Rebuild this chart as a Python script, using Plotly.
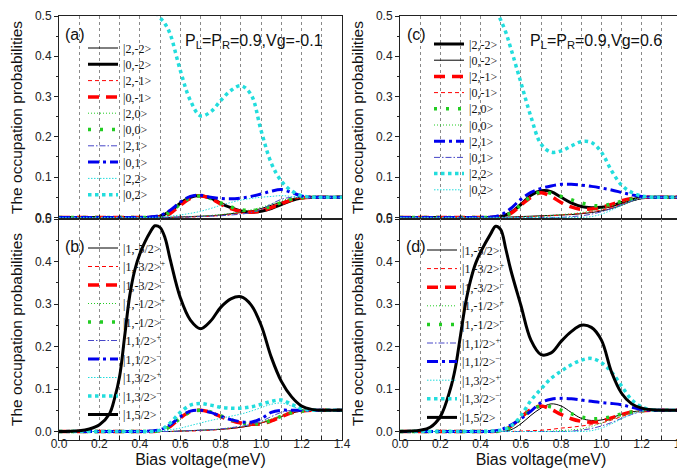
import plotly.graph_objects as go

# ---------------- data ----------------
V = [0.00, 0.05, 0.10, 0.15, 0.20, 0.25, 0.30, 0.35, 0.40, 0.45, 0.50, 0.55, 0.60, 0.65,
     0.70, 0.75, 0.80, 0.85, 0.90, 0.95, 1.00, 1.05, 1.10, 1.15, 1.20, 1.25, 1.30, 1.35, 1.40]
V_BIG = [0.0, 0.1, 0.15, 0.2, 0.25, 0.275, 0.3, 0.325, 0.35, 0.375, 0.4, 0.45, 0.475, 0.5,
         0.525, 0.55, 0.6, 0.65, 0.7, 0.75, 0.8, 0.85, 0.9, 0.95, 1.0, 1.05, 1.1, 1.15, 1.2,
         1.25, 1.3, 1.4]

# panel (a)  P_L=P_R=0.9, Vg=-0.1
a_2m2 = [0,0,0,0,0,0,0,0,0,0, 0,0,0.001,0.002,0.003,0.004,0.006,0.009,0.012,0.016,0.022,0.03,0.038,0.045,0.049,0.05,0.05,0.05,0.05]
a_0m2 = [0,0,0,0,0,0,0,0,0,0, 0.003,0.015,0.035,0.05,0.054,0.048,0.035,0.024,0.016,0.013,0.015,0.022,0.032,0.042,0.048,0.05,0.05,0.05,0.05]
a_2m1 = [0,0,0,0,0,0,0,0,0,0, 0,0,0.001,0.001,0.002,0.003,0.005,0.007,0.01,0.014,0.02,0.027,0.036,0.044,0.048,0.05,0.05,0.05,0.05]
a_0m1 = [0,0,0,0,0,0,0,0,0,0, 0.001,0.01,0.03,0.047,0.054,0.047,0.033,0.022,0.015,0.013,0.016,0.024,0.034,0.043,0.048,0.05,0.05,0.05,0.05]
a_20 = [0,0,0,0,0,0,0,0,0,0, 0,0,0.001,0.002,0.003,0.005,0.007,0.01,0.014,0.019,0.025,0.033,0.042,0.047,0.05,0.05,0.05,0.05,0.05]
a_00 = [0,0,0,0,0,0,0,0,0,0, 0.002,0.013,0.033,0.049,0.053,0.047,0.036,0.026,0.019,0.017,0.02,0.028,0.037,0.045,0.049,0.05,0.05,0.05,0.05]
a_21 = [0,0,0,0,0,0,0,0,0,0, 0,0,0.001,0.001,0.002,0.003,0.004,0.006,0.008,0.012,0.02,0.033,0.045,0.05,0.051,0.05,0.05,0.05,0.05]
a_01 = [0,0,0,0,0,0,0,0,0,0.001, 0.005,0.018,0.038,0.052,0.055,0.05,0.047,0.046,0.048,0.052,0.058,0.065,0.069,0.062,0.053,0.05,0.05,0.05,0.05]
a_22 = [0,0,0,0,0,0,0,0,0,0, 0.001,0.003,0.006,0.01,0.015,0.022,0.03,0.037,0.043,0.047,0.05,0.052,0.054,0.052,0.05,0.05,0.05,0.05,0.05]
a_02 = [1.0,0.998,0.994,0.984,0.958,0.92,0.87,0.775,0.68,0.62,0.58,0.53,0.512,0.496,0.48,0.455,
        0.365,0.29,0.252,0.262,0.29,0.315,0.327,0.305,0.215,0.135,0.09,0.066,0.054,0.05,0.05,0.05]

# panel (b)
b_m52 = [0,0,0,0,0,0,0,0,0,0, 0,0,0.001,0.002,0.003,0.004,0.005,0.007,0.01,0.014,0.02,0.027,0.035,0.043,0.048,0.05,0.05,0.05,0.05]
b_m32p = [0,0,0,0,0,0,0,0,0,0, 0,0,0.001,0.001,0.002,0.003,0.005,0.007,0.01,0.014,0.02,0.028,0.036,0.044,0.048,0.05,0.05,0.05,0.05]
b_m32m = [0,0,0,0,0,0,0,0,0,0, 0.002,0.012,0.032,0.047,0.05,0.045,0.035,0.026,0.02,0.017,0.018,0.025,0.035,0.044,0.048,0.05,0.05,0.05,0.05]
b_m12p = [0,0,0,0,0,0,0,0,0,0, 0,0,0.001,0.002,0.003,0.004,0.006,0.009,0.012,0.016,0.022,0.03,0.038,0.045,0.049,0.05,0.05,0.05,0.05]
b_m12m = [0,0,0,0,0,0,0,0,0,0, 0.002,0.012,0.031,0.046,0.05,0.046,0.037,0.028,0.021,0.018,0.019,0.026,0.036,0.044,0.048,0.05,0.05,0.05,0.05]
b_12p = [0,0,0,0,0,0,0,0,0,0, 0,0,0.001,0.002,0.003,0.004,0.006,0.009,0.012,0.017,0.024,0.035,0.045,0.05,0.05,0.05,0.05,0.05,0.05]
b_12m = [0,0,0,0,0,0,0,0,0,0.001, 0.004,0.016,0.035,0.048,0.05,0.045,0.036,0.028,0.023,0.022,0.03,0.045,0.05,0.05,0.05,0.05,0.05,0.05,0.05]
b_32p = [0,0,0,0,0,0,0,0,0,0, 0.001,0.004,0.008,0.014,0.02,0.026,0.031,0.036,0.041,0.048,0.056,0.064,0.067,0.06,0.052,0.05,0.05,0.05,0.05]
b_32m = [0,0,0,0,0,0,0,0,0,0, 0.003,0.02,0.045,0.062,0.066,0.062,0.057,0.055,0.055,0.058,0.064,0.071,0.074,0.064,0.054,0.05,0.05,0.05,0.05]
b_52 = [0,0.002,0.006,0.016,0.042,0.078,0.13,0.225,0.32,0.38,0.418,0.468,0.484,0.48,0.455,0.405,
        0.315,0.262,0.242,0.26,0.292,0.312,0.317,0.298,0.25,0.175,0.118,0.082,0.06,0.052,0.05,0.05]

# panel (c)  P_L=P_R=0.9, Vg=0.6
c_2m2 = [0,0,0,0,0,0,0,0,0,0, 0.002,0.012,0.032,0.055,0.066,0.064,0.05,0.036,0.027,0.024,0.025,0.029,0.037,0.044,0.049,0.05,0.05,0.05,0.05]
c_0m2 = [0,0,0,0,0,0,0,0,0,0, 0,0.001,0.002,0.003,0.004,0.005,0.006,0.007,0.009,0.012,0.016,0.022,0.03,0.04,0.047,0.05,0.05,0.05,0.05]
c_2m1 = [0,0,0,0,0,0,0,0,0,0, 0.001,0.01,0.03,0.05,0.061,0.052,0.037,0.026,0.02,0.021,0.025,0.032,0.041,0.047,0.05,0.05,0.05,0.05,0.05]
c_0m1 = [0,0,0,0,0,0,0,0,0,0, 0,0,0.001,0.002,0.003,0.004,0.006,0.008,0.01,0.014,0.018,0.025,0.033,0.042,0.048,0.05,0.05,0.05,0.05]
c_20 = [0,0,0,0,0,0,0,0,0,0, 0.001,0.011,0.031,0.052,0.063,0.06,0.052,0.044,0.036,0.03,0.029,0.033,0.04,0.046,0.05,0.05,0.05,0.05,0.05]
c_00 = [0,0,0,0,0,0,0,0,0,0, 0,0,0.001,0.002,0.003,0.005,0.007,0.009,0.012,0.016,0.022,0.029,0.037,0.044,0.049,0.05,0.05,0.05,0.05]
c_21 = [0,0,0,0,0,0,0,0,0,0.001, 0.006,0.022,0.045,0.062,0.072,0.078,0.082,0.082,0.08,0.077,0.073,0.068,0.062,0.056,0.052,0.05,0.05,0.05,0.05]
c_01 = [0,0,0,0,0,0,0,0,0,0, 0,0,0,0,0,0,0,0.002,0.004,0.008,0.014,0.022,0.032,0.041,0.047,0.05,0.05,0.05,0.05]
c_22 = [1.0,0.997,0.99,0.965,0.9,0.85,0.775,0.7,0.645,0.605,0.578,0.535,0.515,0.49,0.46,0.42,
        0.335,0.25,0.182,0.162,0.165,0.177,0.188,0.186,0.162,0.116,0.08,0.062,0.053,0.05,0.05,0.05]
c_02 = [0,0,0,0,0,0,0,0,0,0, 0,0,0,0,0,0,0,0,0,0.002,0.008,0.018,0.03,0.041,0.048,0.05,0.05,0.05,0.05]

# panel (d)
d_m52 = [0,0,0,0,0,0,0,0,0,0, 0,0.004,0.018,0.038,0.055,0.065,0.06,0.045,0.031,0.026,0.027,0.033,0.04,0.046,0.049,0.05,0.05,0.05,0.05]
d_m32p = [0,0,0,0,0,0,0,0,0,0, 0,0,0.001,0.002,0.003,0.005,0.008,0.01,0.013,0.016,0.02,0.027,0.035,0.043,0.048,0.05,0.05,0.05,0.05]
d_m32m = [0,0,0,0,0,0,0,0,0,0, 0.002,0.012,0.033,0.052,0.06,0.052,0.04,0.03,0.024,0.022,0.025,0.032,0.04,0.046,0.049,0.05,0.05,0.05,0.05]
d_m12p = [0,0,0,0,0,0,0,0,0,0, 0,0,0,0,0,0.001,0.002,0.004,0.006,0.012,0.02,0.028,0.037,0.044,0.049,0.05,0.05,0.05,0.05]
d_m12m = [0,0,0,0,0,0,0,0,0,0, 0.001,0.01,0.03,0.05,0.06,0.058,0.05,0.042,0.034,0.03,0.031,0.035,0.041,0.046,0.049,0.05,0.05,0.05,0.05]
d_12p = [0,0,0,0,0,0,0,0,0,0, 0,0,0,0,0,0,0,0.001,0.003,0.007,0.013,0.021,0.031,0.04,0.047,0.05,0.05,0.05,0.05]
d_12m = [0,0,0,0,0,0,0,0,0,0, 0.004,0.015,0.03,0.048,0.068,0.076,0.078,0.077,0.074,0.071,0.068,0.066,0.063,0.057,0.052,0.05,0.05,0.05,0.05]
d_32p = [0,0,0,0,0,0,0,0,0,0, 0,0,0,0,0,0,0,0,0,0.002,0.008,0.018,0.03,0.041,0.048,0.05,0.05,0.05,0.05]
d_32m = [0,0,0,0,0,0,0,0,0,0.001, 0.003,0.012,0.037,0.073,0.1,0.125,0.142,0.157,0.168,0.172,0.162,0.14,0.107,0.075,0.058,0.051,0.05,0.05,0.05]
d_52 = [0,0.003,0.01,0.035,0.1,0.15,0.225,0.3,0.355,0.395,0.422,0.465,0.483,0.475,0.43,0.38,
        0.297,0.215,0.181,0.185,0.212,0.235,0.25,0.245,0.215,0.14,0.09,0.065,0.055,0.051,0.05,0.05]

ANNOT_A = "P<sub>L</sub>=P<sub>R</sub>=0.9,Vg=-0.1"
ANNOT_C = "P<sub>L</sub>=P<sub>R</sub>=0.9,Vg=0.6"

# ---------------- styles ----------------
BLACK = '#000000'; RED = '#ff0000'; GREEN = '#22cc22'; BLUE = '#0000ee'
NAVY = '#4646c8'; CYAN = '#22dddd'
STY = {
    'k1': dict(color=BLACK, width=1, dash='solid'),
    'k3': dict(color=BLACK, width=3, dash='solid'),
    'r1': dict(color=RED, width=1, dash='4px,3px'),
    'r3': dict(color=RED, width=3.5, dash='11px,7px'),
    'g1': dict(color=GREEN, width=1, dash='1px,2px'),
    'g3': dict(color=GREEN, width=3.5, dash='3px,9px'),
    'b1': dict(color=NAVY, width=1, dash='6px,2px,1.5px,2px'),
    'b3': dict(color=BLUE, width=3, dash='11px,4px,3px,4px'),
    'c1': dict(color=CYAN, width=1, dash='1.5px,1.5px'),
    'c3': dict(color=CYAN, width=3.5, dash='3.5px,3.5px'),
}

M = "&gt;<sup>\u2212</sup>"
P = "&gt;<sup>+</sup>"
panels = [
    ('x', 'y', [
        ('|2,-2&gt;', V, a_2m2, 'k1'), ('|0,-2&gt;', V, a_0m2, 'k3'),
        ('|2,-1&gt;', V, a_2m1, 'r1'), ('|0,-1&gt;', V, a_0m1, 'r3'),
        ('|2,0&gt;', V, a_20, 'g1'), ('|0,0&gt;', V, a_00, 'g3'),
        ('|2,1&gt;', V, a_21, 'b1'), ('|0,1&gt;', V, a_01, 'b3'),
        ('|2,2&gt;', V, a_22, 'c1'), ('|0,2&gt;', V_BIG, a_02, 'c3')],
     75, 40, 16.3),
    ('x2', 'y2', [
        ('|1,-5/2&gt;', V, b_m52, 'k1'), ('|1,-3/2' + P, V, b_m32p, 'r1'),
        ('|1,-3/2' + M, V, b_m32m, 'r3'), ('|1,-1/2' + P, V, b_m12p, 'g1'),
        ('|1,-1/2' + M, V, b_m12m, 'g3'), ('|1,1/2' + P, V, b_12p, 'b1'),
        ('|1,1/2' + M, V, b_12m, 'b3'), ('|1,3/2' + P, V, b_32p, 'c1'),
        ('|1,3/2' + M, V, b_32m, 'c3'), ('|1,5/2&gt;', V_BIG, b_52, 'k3')],
     75, 240, 18.5),
    ('x3', 'y3', [
        ('|2,-2&gt;', V, c_2m2, 'k3'), ('|0,-2&gt;', V, c_0m2, 'k1'),
        ('|2,-1&gt;', V, c_2m1, 'r3'), ('|0,-1&gt;', V, c_0m1, 'r1'),
        ('|2,0&gt;', V, c_20, 'g3'), ('|0,0&gt;', V, c_00, 'g1'),
        ('|2,1&gt;', V, c_21, 'b3'), ('|0,1&gt;', V, c_01, 'b1'),
        ('|2,2&gt;', V_BIG, c_22, 'c3'), ('|0,2&gt;', V, c_02, 'c1')],
     421, 36, 16.2),
    ('x4', 'y4', [
        ('|1,-5/2&gt;', V, d_m52, 'k1'), ('|1,-3/2' + P, V, d_m32p, 'r1'),
        ('|1,-3/2' + M, V, d_m32m, 'r3'), ('|1,-1/2' + P, V, d_m12p, 'g1'),
        ('|1,-1/2' + M, V, d_m12m, 'g3'), ('|1,1/2' + P, V, d_12p, 'b1'),
        ('|1,1/2' + M, V, d_12m, 'b3'), ('|1,3/2' + P, V, d_32p, 'c1'),
        ('|1,3/2' + M, V, d_32m, 'c3'), ('|1,5/2&gt;', V_BIG, d_52, 'k3')],
     414, 242, 18.6),
]

W, H = 685, 476
ML, MR, MT, MB = 51, 11, 8, 44
PW, PH = W - ML - MR, H - MT - MB


def px2x(p):
    return (p - ML) / PW


def px2y(p):
    return (H - MB - p) / PH


fig = go.Figure()
layout_legends = {}
n = 0
for xa, ya, series, lx, ly0, dy in panels:
    for k, (name, xs, ys, st) in enumerate(series):
        n += 1
        lid = 'legend' if n == 1 else 'legend%d' % n
        fig.add_trace(go.Scatter(
            x=xs, y=ys, mode='lines', name=name, xaxis=xa, yaxis=ya,
            line=dict(color=STY[st]['color'], width=STY[st]['width'],
                      dash=STY[st]['dash'], shape='spline', smoothing=1.0),
            legend=lid, showlegend=True, hoverinfo='skip'))
        layout_legends[lid] = dict(
            x=px2x(lx), y=px2y(ly0 + k * dy), xanchor='left', yanchor='middle',
            bgcolor='rgba(0,0,0,0)', borderwidth=0,
            font=dict(family='Liberation Serif', size=12, color='#111'),
            itemclick=False, itemdoubleclick=False)

XL = [0.0, px2x(334)]
XR = [px2x(392), 1.0]
YT = [px2y(211), 1.0]
YB = [0.0, px2y(211)]

axfont = dict(family='Liberation Sans, Arial', size=12, color='#222')
titlefont = dict(family='Liberation Sans, Arial', size=15.5, color='#111')


def xaxis(dom, anchor, labels):
    d = dict(domain=dom, anchor=anchor, range=[0, 1.4], tick0=0, dtick=0.2,
             showgrid=True, griddash='dot', gridcolor='#8a8a8a', gridwidth=1,
             zeroline=False, showline=True, mirror=True, linecolor='#222', linewidth=1,
             ticks='inside', ticklen=4, tickcolor='#222', tickformat='.1f',
             showticklabels=labels, tickfont=axfont, ticklabelstandoff=-7,
             minor=dict(dtick=0.1, showgrid=True, griddash='dot', gridcolor='#8a8a8a',
                        ticks='inside', ticklen=4, tickcolor='#222'))
    if labels:
        d['title'] = dict(text='Bias voltage(meV)',
                          font=dict(family='Liberation Sans, Arial', size=16, color='#111'),
                          standoff=1)
    return d


def yaxis(dom, anchor, rng):
    return dict(domain=dom, anchor=anchor, range=rng, tick0=0, dtick=0.1,
                tickformat='.1f', showgrid=False, zeroline=False,
                showline=True, mirror=True, linecolor='#222', linewidth=1,
                ticks='outside', ticklen=4, tickcolor='#222', tickfont=axfont,
                minor=dict(dtick=0.05, ticks='outside', ticklen=2, tickcolor='#222'),
                title=dict(text='The occupation probabilities', font=titlefont, standoff=8))


fig.update_layout(
    width=W, height=H, margin=dict(l=ML, r=MR, t=MT, b=MB, autoexpand=False),
    paper_bgcolor='white', plot_bgcolor='white',
    xaxis=xaxis(XL, 'y', False), yaxis=yaxis(YT, 'x', [-0.004, 0.5]),
    xaxis2=xaxis(XL, 'y2', True), yaxis2=yaxis(YB, 'x2', [-0.02, 0.5]),
    xaxis3=xaxis(XR, 'y3', False), yaxis3=yaxis(YT, 'x3', [-0.004, 0.5]),
    xaxis4=xaxis(XR, 'y4', True), yaxis4=yaxis(YB, 'x4', [-0.02, 0.5]),
    **layout_legends,
)

afont = dict(family='Liberation Sans, Arial', size=16, color='#111')
for txt, xp, yp in [('(a)', 67, 26), ('(b)', 67, 238), ('(c)', 408, 26), ('(d)', 408, 238)]:
    fig.add_annotation(text=txt, x=px2x(xp), y=px2y(yp), xref='paper', yref='paper',
                       showarrow=False, font=afont, xanchor='center', yanchor='middle')
fig.add_annotation(text=ANNOT_A, x=px2x(246), y=px2y(33), xref='paper', yref='paper',
                   showarrow=False, font=afont, xanchor='center', yanchor='middle')
fig.add_annotation(text=ANNOT_C, x=px2x(588), y=px2y(33), xref='paper', yref='paper',
                   showarrow=False, font=afont, xanchor='center', yanchor='middle')

fig.write_html("out.html")
